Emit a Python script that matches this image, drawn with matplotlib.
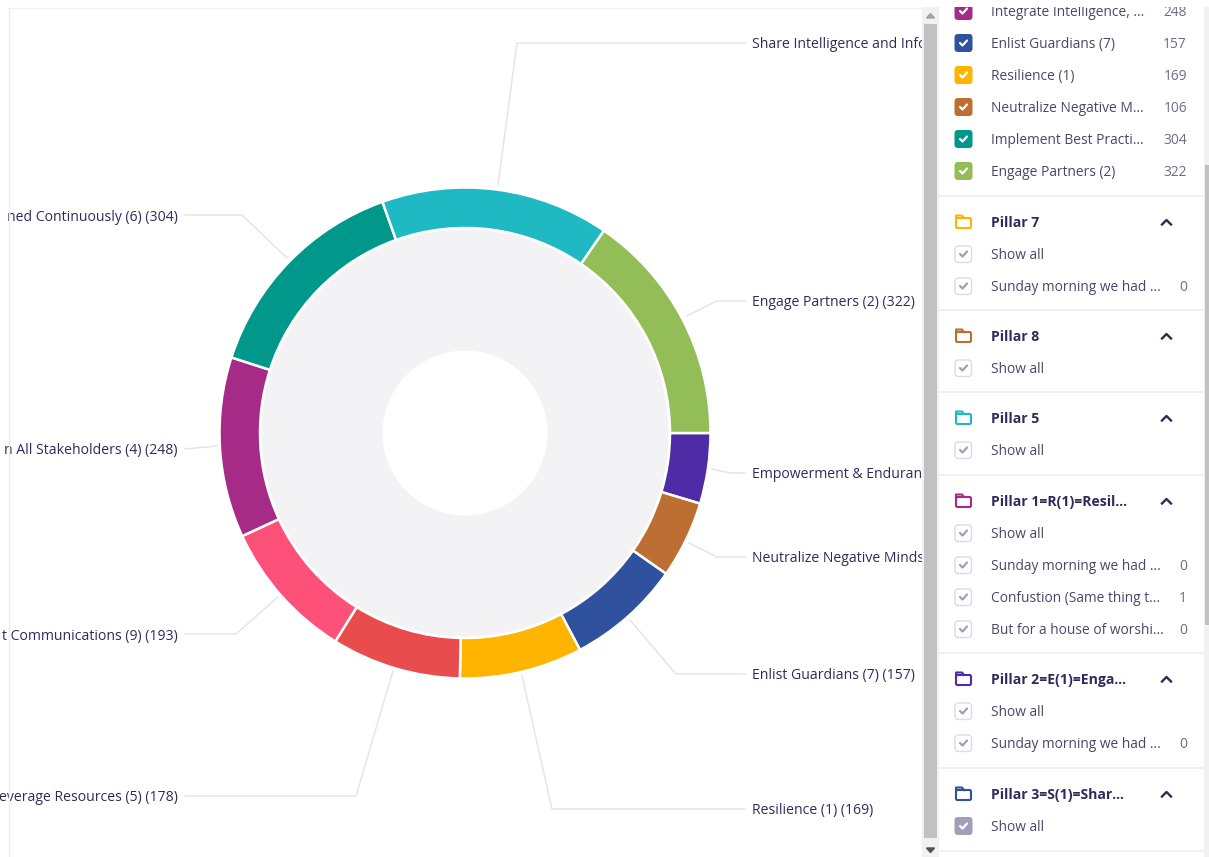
#!/usr/bin/env python3
"""Donut chart with leader-line labels and the scrolled filter panel next to it."""
import matplotlib
matplotlib.use("Agg")
import matplotlib.pyplot as plt
from matplotlib.patches import FancyBboxPatch, Rectangle

plt.rcParams["font.family"] = ["Open Sans", "DejaVu Sans"]

W, H = 1209, 857
C_TEXT = "#2f2a5c"
C_ROW = "#4b4669"
C_COUNT = "#6f6b88"
C_LEAD = "#e4e4ec"
C_SEP = "#eeeef2"

# clockwise from 3 o'clock; labels are cut as they are in the reference frame
slice_labels = ["Empowerment & Enduranc", "Neutralize Negative Minds",
                "Enlist Guardians (7) (157)", "Resilience (1) (169)",
                "everage Resources (5) (178)", "t Communications (9) (193)",
                "n All Stakeholders (4) (248)", "ned Continuously (6) (304)",
                "Share Intelligence and Info", "Engage Partners (2) (322)"]
slice_values = [97, 106, 157, 169, 178, 193, 248, 304, 314, 322]
slice_colors = ["#4f2ca5", "#bd6f33", "#30519e", "#ffb400", "#e84c4c",
                "#fe5179", "#a62b87", "#00988a", "#1eb9c3", "#93bd57"]
label_x = [752, 752, 752, 752, 178, 178, 178, 178, 752, 752]
label_y = [473, 557, 674, 809, 796, 635, 449, 216, 43, 301]
leaders = [[(712, 469), (730, 473), (745, 473)], [(689, 543), (717, 557), (745, 557)],
           [(630, 620), (676, 674), (745, 674)], [(522, 676), (552, 809), (745, 809)],
           [(393, 671), (356, 796), (185, 796)], [(278, 597), (236, 634), (185, 634)],
           [(217, 446), (185, 449)], [(287, 258), (242, 215), (185, 215)],
           [(498, 185), (517, 43), (745, 43)], [(687, 316), (717, 301), (745, 301)]]

# filter panel, top to bottom
check_rows = [(11, "Integrate Intelligence, ...", "248", "#a62b87"),
              (43, "Enlist Guardians (7)", "157", "#30519e"),
              (75, "Resilience (1)", "169", "#ffb400"),
              (107, "Neutralize Negative M...", "106", "#bd6f33"),
              (139, "Implement Best Practi...", "304", "#00988a"),
              (171, "Engage Partners (2)", "322", "#93bd57"),
              (254, "Show all", "", None),
              (286, "Sunday morning we had ...", "0", None),
              (368, "Show all", "", None),
              (450, "Show all", "", None),
              (533, "Show all", "", None),
              (565, "Sunday morning we had ...", "0", None),
              (597, "Confustion (Same thing t...", "1", None),
              (629, "But for a house of worshi...", "0", None),
              (711, "Show all", "", None),
              (743, "Sunday morning we had ...", "0", None),
              (826, "Show all", "", "#a39db8")]
pillars = [(222, "Pillar 7", "#ffb400"), (336, "Pillar 8", "#bd6f33"),
           (418, "Pillar 5", "#1eb9c3"), (501, "Pillar 1=R(1)=Resil...", "#a62b87"),
           (679, "Pillar 2=E(1)=Enga...", "#4f2ca5"), (794, "Pillar 3=S(1)=Shar...", "#30519e")]
separators = [196, 310, 392, 475, 653, 768, 851]


def rbox(ax, x, y, w, h, r, **kw):
    ax.add_patch(FancyBboxPatch((x + r, y + r), w - 2 * r, h - 2 * r,
                                boxstyle=f"round,pad={r},rounding_size={r}", **kw))


def draw_check(ax, y, color):
    if color:
        rbox(ax, 954.5, y - 9, 18, 18, 3.5, fc=color, ec="none", zorder=6)
        c = "white"
    else:
        rbox(ax, 955, y - 8, 16.5, 16.5, 3.5, fc="white", ec="#dcdae6", lw=1, zorder=6)
        c = "#a39db8"
    ax.plot([960, 962.5, 967], [y, y + 2.5, y - 2.5], color=c, lw=1.6, zorder=7,
            solid_capstyle="round", solid_joinstyle="round")


def draw_folder(ax, y, color):
    rbox(ax, 956, y - 4, 15, 10, 1.5, fc="white", ec=color, lw=1.5, zorder=6)
    ax.plot([956, 956, 962, 964], [y - 2, y - 6.5, y - 6.5, y - 4], color=color, lw=1.5, zorder=6)


fig = plt.figure(figsize=(W / 100, H / 100), dpi=100, facecolor="white")

# donut: axes is 500 px square around the centre so data units are pixels
cx, cy = 465, 433
pie_ax = fig.add_axes([(cx - 250) / W, 1 - (cy + 250) / H, 500 / W, 500 / H], zorder=1)
pie_ax.pie([sum(slice_values)], colors=["#f3f3f6"], radius=205, startangle=0, counterclock=False,
           wedgeprops=dict(width=124, edgecolor="white", linewidth=2))
pie_ax.pie(slice_values, colors=slice_colors, radius=245.5, startangle=0, counterclock=False,
           wedgeprops=dict(width=40.5, edgecolor="white", linewidth=1.8))
pie_ax.set_xlim(-250, 250)
pie_ax.set_ylim(-250, 250)
pie_ax.set_aspect("equal")

# everything else lives in an overlay in pixel coordinates
ax = fig.add_axes([0, 0, 1, 1], zorder=2)
ax.set_xlim(0, W)
ax.set_ylim(H, 0)
ax.axis("off")

for pts, lx, ly, lab in zip(leaders, label_x, label_y, slice_labels):
    ax.plot([p[0] for p in pts], [p[1] for p in pts], color=C_LEAD, lw=1.1, zorder=2)
    ax.text(lx, ly + 1.3, lab, fontsize=10.05, fontweight=500, color=C_TEXT, va="center",
            ha="left" if lx > W / 2 else "right", zorder=3)

ax.plot([8.5, 8.5], [8, H], color="#ececf0", lw=1, zorder=5)
ax.plot([8, 938], [7.5, 7.5], color="#f0f0f3", lw=1, zorder=5)

# panel background and scrollbars
ax.add_patch(Rectangle((923, 0), W - 923, H, fc="white", ec="none", zorder=4))
ax.add_patch(Rectangle((922, 7), 17, H - 7, fc="#f1f1f1", ec="none", zorder=5))
ax.add_patch(Rectangle((924, 24), 13, 814, fc="#c1c1c1", ec="none", zorder=6))
ax.add_patch(Rectangle((1204, 7), 5, H - 7, fc="#f1f1f1", ec="none", zorder=5))
ax.add_patch(Rectangle((1205, 165), 4, 460, fc="#c1c1c1", ec="none", zorder=6))
ax.fill([926.5, 930.5, 934.5], [18, 13.5, 18], color="#a3a3a3", zorder=6)
ax.fill([926.5, 930.5, 934.5], [848, 852.5, 848], color="#505050", zorder=6)

for y in separators:
    ax.plot([939, 1203], [y, y], color=C_SEP, lw=1.2, zorder=5)

for y, name, count, color in check_rows:
    draw_check(ax, y, color)
    ax.text(991, y + 1.5, name, fontsize=9.9, fontweight=500, color=C_ROW, va="center", zorder=6)
    if count:
        ax.text(1187, y + 1.5, count, fontsize=9.9, fontweight=500, color=C_COUNT, va="center",
                ha="right", zorder=6)

for y, name, color in pillars:
    draw_folder(ax, y, color)
    ax.text(991, y + 1, name, fontsize=10.05, fontweight="bold", color=C_TEXT, va="center", zorder=6)
    ax.plot([1162, 1166.5, 1171], [y + 2.5, y - 2, y + 2.5], color=C_TEXT, lw=1.7, zorder=6)

# the top row is cut off by the panel edge
ax.add_patch(Rectangle((939, 0), W - 939, 7, fc="white", ec="none", zorder=8))

fig.savefig("out.png", dpi=100)
